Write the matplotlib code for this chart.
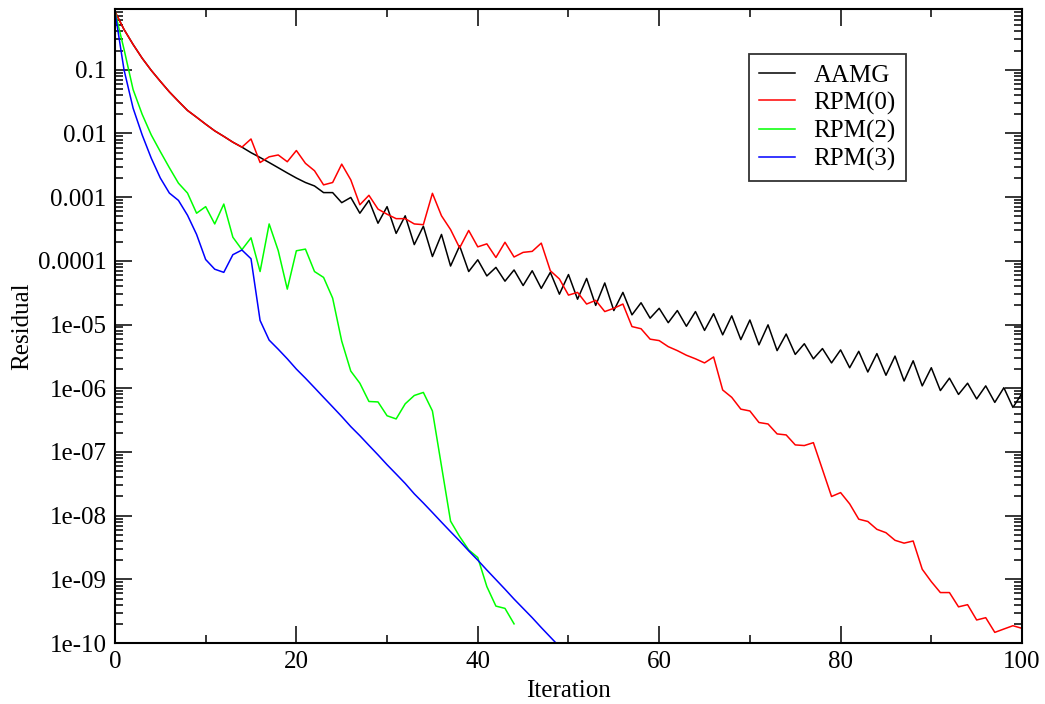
import matplotlib
matplotlib.use("Agg")
import matplotlib.pyplot as plt
from matplotlib.ticker import MultipleLocator, LogLocator, FuncFormatter, NullFormatter
import numpy as np

plt.rcParams['font.family'] = ['Liberation Serif', 'DejaVu Serif']

# residual per iteration
aamg = [0.82, 0.43, 0.25, 0.152, 0.098, 0.066, 0.045, 0.032, 0.023, 0.018,
        0.014, 0.011, 0.0090, 0.0073, 0.0061, 0.0050, 0.0042, 0.0035, 0.0029, 0.0024,
        0.0020, 0.0017, 0.0015, 0.00118, 0.00118, 0.00082, 0.00099, 0.00056, 0.00089, 0.00039,
        0.00071, 0.00027, 0.00051, 0.00018, 0.00035, 0.000117, 0.00026, 8.3e-5, 0.000172, 6.8e-5,
        0.000104, 5.8e-5, 7.9e-5, 4.8e-5, 7.2e-5, 4.1e-5, 7.0e-5, 3.7e-5, 6.6e-5, 3.0e-5,
        6.1e-5, 2.5e-5, 5.3e-5, 2.0e-5, 4.5e-5, 1.66e-5, 3.2e-5, 1.42e-5, 2.2e-5, 1.26e-5,
        1.8e-5, 1.07e-5, 1.66e-5, 9.4e-6, 1.6e-5, 8.1e-6, 1.48e-5, 6.9e-6, 1.37e-5, 5.8e-6,
        1.18e-5, 4.8e-6, 9.9e-6, 3.9e-6, 7.1e-6, 3.4e-6, 5.0e-6, 2.9e-6, 4.2e-6, 2.5e-6,
        4.0e-6, 2.1e-6, 3.8e-6, 1.8e-6, 3.5e-6, 1.6e-6, 3.2e-6, 1.3e-6, 2.7e-6, 1.09e-6,
        2.1e-6, 9.2e-7, 1.44e-6, 8.0e-7, 1.2e-6, 6.8e-7, 1.09e-6, 6.0e-7, 1.02e-6, 5.0e-7,
        8.3e-7]

rpm0 = [0.82, 0.43, 0.25, 0.152, 0.098, 0.066, 0.045, 0.032, 0.023, 0.018,
        0.014, 0.011, 0.0090, 0.0073, 0.0061, 0.0082, 0.0035, 0.0043, 0.0046, 0.0036,
        0.0054, 0.0034, 0.0026, 0.00156, 0.0017, 0.0033, 0.00187, 0.00076, 0.00107, 0.00065,
        0.00054, 0.00046, 0.00046, 0.00038, 0.00037, 0.00115, 0.00051, 0.00031, 0.00016, 0.00030,
        0.000166, 0.000185, 0.000113, 0.000196, 0.000115, 0.000136, 0.000141, 0.00019, 7.0e-5, 5.2e-5,
        2.9e-5, 3.2e-5, 2.1e-5, 2.4e-5, 1.6e-5, 1.8e-5, 2.1e-5, 9.3e-6, 8.6e-6, 5.9e-6,
        5.6e-6, 4.5e-6, 3.9e-6, 3.3e-6, 2.9e-6, 2.5e-6, 3.1e-6, 9.4e-7, 7.2e-7, 4.7e-7,
        4.4e-7, 2.9e-7, 2.75e-7, 1.92e-7, 1.85e-7, 1.29e-7, 1.26e-7, 1.40e-7, 5.3e-8, 2.0e-8,
        2.3e-8, 1.53e-8, 8.8e-9, 8.1e-9, 6.1e-9, 5.4e-9, 4.1e-9, 3.7e-9, 4.0e-9, 1.44e-9,
        9.2e-10, 6.2e-10, 6.2e-10, 3.7e-10, 4.0e-10, 2.3e-10, 2.5e-10, 1.47e-10, 1.66e-10, 1.87e-10,
        1.70e-10]

rpm2 = [0.82, 0.21, 0.049, 0.020, 0.0095, 0.0052, 0.0029, 0.00166, 0.00116, 0.00056,
        0.00071, 0.00038, 0.00078, 0.000235, 0.00015, 0.00023, 6.8e-5, 0.00038, 0.000145, 3.6e-5,
        0.000144, 0.000153, 6.8e-5, 5.5e-5, 2.6e-5, 5.5e-6, 1.86e-6, 1.20e-6, 6.2e-7, 6.1e-7,
        3.7e-7, 3.3e-7, 5.7e-7, 7.7e-7, 8.6e-7, 4.4e-7, 6.0e-8, 8.2e-9, 4.7e-9, 2.9e-9,
        2.2e-9, 7.7e-10, 3.8e-10, 3.5e-10, 2.0e-10]

rpm3 = [0.82, 0.10, 0.025, 0.0095, 0.0041, 0.0020, 0.00116, 0.00089, 0.00052, 0.00026,
        0.000105, 7.4e-5, 6.6e-5, 0.000125, 0.000148, 0.000108, 1.16e-5, 5.7e-6, 4.1e-6, 2.9e-6,
        2.0e-6, 1.44e-6, 1.02e-6, 7.2e-7, 5.1e-7, 3.6e-7, 2.5e-7, 1.8e-7, 1.27e-7, 9.0e-8,
        6.3e-8, 4.5e-8, 3.2e-8, 2.2e-8, 1.58e-8, 1.12e-8, 7.9e-9, 5.6e-9, 4.0e-9, 2.8e-9,
        2.0e-9, 1.40e-9, 9.9e-10, 7.0e-10, 4.9e-10, 3.5e-10, 2.5e-10, 1.75e-10, 1.24e-10, 8.8e-11]

series = [("AAMG", aamg, "#000000"),
          ("RPM(0)", rpm0, "#ff0000"),
          ("RPM(2)", rpm2, "#00ff00"),
          ("RPM(3)", rpm3, "#0000ff")]

fig = plt.figure(figsize=(10.45, 7.04), dpi=100)
ax = fig.add_axes([0.110, 0.0866, 0.868, 0.9006])

for name, vals, col in series:
    ax.plot(np.arange(len(vals)), vals, color=col, lw=1.1, label=name)

ax.set_yscale("log")
ax.set_xlim(0, 100)
ax.set_ylim(1e-10, 0.9)

ax.xaxis.set_major_locator(MultipleLocator(20))
ax.xaxis.set_minor_locator(MultipleLocator(10))
ax.yaxis.set_major_locator(LogLocator(base=10, numticks=20))
ax.yaxis.set_minor_locator(LogLocator(base=10, subs=np.arange(2, 10), numticks=20))
ax.yaxis.set_major_formatter(FuncFormatter(lambda v, p: "%g" % v))
ax.yaxis.set_minor_formatter(NullFormatter())

ax.tick_params(which="both", direction="in", top=True, right=True,
               labelsize=18, width=1.1, pad=6)
ax.tick_params(which="major", length=12)
ax.tick_params(which="minor", length=6)
for s in ax.spines.values():
    s.set_linewidth(1.5)

ax.set_xlabel("Iteration", fontsize=18, labelpad=5)
ax.set_ylabel("Residual", fontsize=18, labelpad=3)

leg = ax.legend(loc="upper right", bbox_to_anchor=(0.872, 0.929), borderaxespad=0,
                fontsize=18, frameon=True, fancybox=False, handlelength=1.45,
                handletextpad=0.75, labelspacing=0.2, borderpad=0.4)
leg.get_frame().set_edgecolor("black")
leg.get_frame().set_linewidth(1.3)

fig.savefig("out.png", dpi=100)
